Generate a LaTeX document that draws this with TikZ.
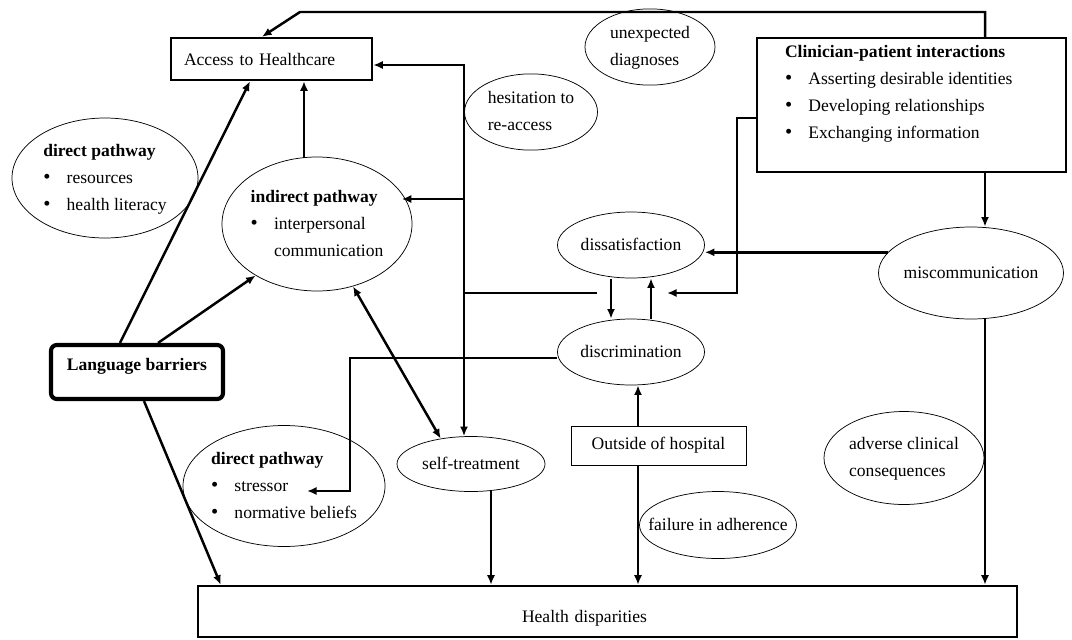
\documentclass[tikz,border=0pt]{standalone}
\usepackage{fontspec}
\setmainfont{Liberation Serif}
\usetikzlibrary{shapes.geometric,arrows.meta,calc}
\newlength{\Pixel}
\setlength{\Pixel}{0.024cm}
\begin{document}
\begin{tikzpicture}[x=0.024cm,y=-0.024cm,font=\fontsize{12}{18.4}\selectfont]
% Styles (MODIFIABLES)
\tikzstyle{fleche}=[->,>={Latex[length=6.5pt,width=5.5pt]},line width=1.7pt]
\tikzstyle{bulle}=[ellipse,draw,line width=0.5pt,inner sep=0pt]
\tikzstyle{boite}=[rectangle,draw,line width=1.7pt,inner sep=0pt]
% Macros
\def\Puce{\makebox[16pt][l]{\fontsize{14}{14}\selectfont\textbullet}}
\def\Lignes#1{\makebox[0pt]{\begin{tabular}{@{}l@{}}#1\end{tabular}}}
% Cadre
\useasboundingbox (0,0) rectangle (1072,639);
% Noeuds (MODIFIABLES)
\node[boite,minimum width=201\Pixel,minimum height=42\Pixel,text width=175\Pixel,align=left] (acces) at (271.5,59) {Access to Healthcare};
\node[boite,minimum width=309\Pixel,minimum height=134\Pixel] (clinicien) at (911.5,105) {\parbox[c][120\Pixel][t]{253\Pixel}{\raggedright\textbf{Clinician-patient interactions}\\ \Puce Asserting desirable identities\\ \Puce Developing relationships\\ \Puce Exchanging information}};
\node[boite,line width=2.8pt,rounded corners=4pt,minimum width=172\Pixel,minimum height=54\Pixel] (langue) at (137,372) {\raisebox{6\Pixel}[\height][\depth]{\textbf{Language barriers}}};
\node[boite,line width=0.6pt,minimum width=175\Pixel,minimum height=39\Pixel] (dehors) at (658.5,445.5) {Outside of hospital};
\node[boite,minimum width=819\Pixel,minimum height=51\Pixel,text width=171\Pixel,align=left] (disparites) at (607.5,611.5) {\raisebox{-7\Pixel}[\height][\depth]{Health disparities}};
\node[bulle,minimum width=186\Pixel,minimum height=120\Pixel] (directA) at (105,178) {\Lignes{\textbf{direct pathway}\\ \Puce resources\\ \Puce health literacy}};
\node[bulle,minimum width=190\Pixel,minimum height=134\Pixel] (indirect) at (317,224) {\Lignes{\textbf{indirect pathway}\\ \Puce interpersonal\\ \hspace*{16pt}communication}};
\node[bulle,minimum width=202\Pixel,minimum height=121\Pixel] (directB) at (284,486) {\Lignes{\textbf{direct pathway}\\ \Puce stressor\\ \Puce normative beliefs}};
\node[bulle,minimum width=133\Pixel,minimum height=67\Pixel] (hesitation) at (531,112) {\Lignes{hesitation to\\ re-access}};
\node[bulle,minimum width=130\Pixel,minimum height=64\Pixel] (inattendu) at (650,47) {\Lignes{unexpected\\ diagnoses}};
\node[bulle,minimum width=147\Pixel,minimum height=66\Pixel] (insatisfaction) at (631,245) {\Lignes{dissatisfaction}};
\node[bulle,minimum width=147\Pixel,minimum height=66\Pixel] (discrimination) at (631,352) {\Lignes{discrimination}};
\node[bulle,minimum width=185\Pixel,minimum height=92\Pixel] (malentendu) at (971,273) {\Lignes{miscommunication}};
\node[bulle,minimum width=148\Pixel,minimum height=55\Pixel] (autotraitement) at (471,464) {\Lignes{self-treatment}};
\node[bulle,minimum width=157\Pixel,minimum height=67\Pixel] (nonadherence) at (718,525) {\Lignes{failure in adherence}};
\node[bulle,minimum width=160\Pixel,minimum height=93\Pixel] (effets) at (904,458) {\Lignes{adverse clinical\\ consequences}};
% Coudes
\coordinate (coinHD) at (985,12);
\coordinate (coinHG) at (300,12);
\coordinate (depart) at (597,293);
\coordinate (jonction) at (464,293);
\coordinate (branche) at (464,199);
\coordinate (sommet) at (464,65);
\coordinate (coudeA) at (737,118);
\coordinate (coudeB) at (737,293);
\coordinate (pointeB) at (667,293);
\coordinate (coudeE) at (350,358);
\coordinate (coudeF) at (350,491);
\coordinate (pointeF) at (307,491);
\coordinate (pied) at ($(autotraitement.south)+(20,-1)$);
\coordinate (basDehors) at ($(dehors.south)+(-20.5,0)$);
% Arcs (MODIFIABLES)
\draw[fleche] (clinicien.north -| coinHD) -- (coinHD) -- (coinHG) -- ($(acces.north)+(-9.5,0)$);
\draw[fleche] ($(langue.north)+(-17,0)$) -- ($(acces.south)+(-21.5,0)$);
\draw[fleche] ($(langue.north)+(21,0)$) -- (indirect.220);
\draw[fleche] ($(indirect.north)+(-13,1)$) -- ($(acces.south)+(32.5,0)$);
\draw[fleche] (depart) -- (jonction) -- (sommet) -- (acces.east |- sommet);
\draw[fleche] (branche) -- (branche -| indirect.20);
\draw[fleche] (jonction) -- (autotraitement.north -| jonction);
\draw[fleche] ($(langue.south)+(7,0)$) -- ($(disparites.north west)+(24,0)$);
\draw[fleche,<->] (indirect.300) -- (autotraitement.140);
\draw[fleche] (pied) -- (pied |- disparites.north);
\draw[fleche] ($(dehors.north)+(-20.5,0)$) -- ($(discrimination.south)+(7,0)$);
\draw[fleche] (basDehors) -- (basDehors |- disparites.north);
\draw[fleche] (clinicien.south -| coinHD) -- (malentendu.north -| coinHD);
\draw[fleche] (malentendu.south -| coinHD) -- (disparites.north -| coinHD);
\draw[fleche] (clinicien.west |- coudeA) -- (coudeA) -- (coudeB) -- (pointeB);
\draw[fleche] (malentendu.166) -- (malentendu.166 -| insatisfaction.east);
\draw[fleche] ($(insatisfaction.south)+(-20,1)$) -- ($(discrimination.north)+(-20,0)$);
\draw[fleche] ($(discrimination.north)+(20,0)$) -- ($(insatisfaction.south)+(20,0)$);
\draw[fleche] (discrimination.west |- coudeE) -- (coudeE) -- (coudeF) -- (pointeF);
\end{tikzpicture}
\end{document}
